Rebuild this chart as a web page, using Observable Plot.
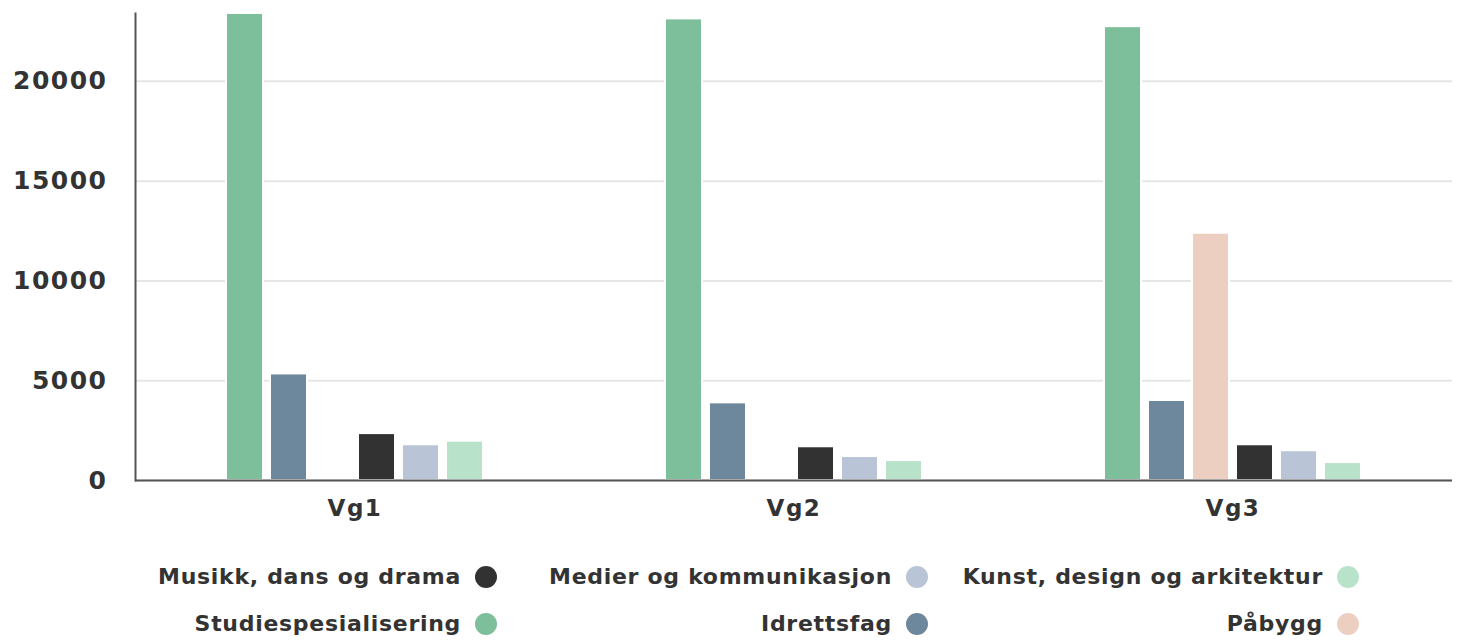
<!DOCTYPE html>
<html>
<head>
<meta charset="utf-8">
<script src="https://cdn.jsdelivr.net/npm/d3@7"></script>
<script src="https://cdn.jsdelivr.net/npm/@observablehq/plot@0.6"></script>
<style>
  body { margin: 0; background: #fff; font-family: "DejaVu Sans", sans-serif; }
  #wrap { position: relative; width: 1460px; height: 640px; }
  #legend { position: absolute; left: 66px; top: 553px; width: 1293px;
            display: grid; grid-template-columns: repeat(3, 431px); }
  .item { display: flex; justify-content: flex-end; align-items: center; height: 47px; }
  .lbl { font-family: "DejaVu Sans", sans-serif; font-weight: bold; font-size: 22px;
         letter-spacing: 0.7px; color: #333; }
  .sw { width: 22px; height: 22px; border-radius: 50%; margin-left: 14px; flex: none; }
  g[aria-label="y-axis tick label"] text { letter-spacing: 1.5px; font-weight: bold; }
  g[aria-label="fx-axis tick label"] text { letter-spacing: 1.5px; font-weight: bold; }
</style>
</head>
<body>
<div id="wrap">
  <div id="chart"></div>
  <div id="legend"></div>
</div>
<script>
// Categories
const groups = ["Vg1", "Vg2", "Vg3"];
const programs = [
  "Studiespesialisering",
  "Idrettsfag",
  "Påbygg",
  "Musikk, dans og drama",
  "Medier og kommunikasjon",
  "Kunst, design og arkitektur"
];
const colors = ["#7dbe9b", "#6d889c", "#edcfc1", "#323232", "#b9c4d6", "#b9e2cb"];

// Series values (order follows `programs`; null = no bar)
const vg1 = [23400, 5340, null, 2350, 1790, 1970];
const vg2 = [23130, 3890, null, 1690, 1200, 1000];
const vg3 = [22740, 4010, 12390, 1790, 1490, 900];

const yTicks = [0, 5000, 10000, 15000, 20000];
const legendOrder = [
  "Musikk, dans og drama", "Medier og kommunikasjon", "Kunst, design og arkitektur",
  "Studiespesialisering", "Idrettsfag", "Påbygg"
];

const series = {Vg1: vg1, Vg2: vg2, Vg3: vg3};
const data = [];
for (const g of groups) {
  series[g].forEach((v, i) => {
    if (v != null) data.push({group: g, program: programs[i], value: v});
  });
}

const chart = Plot.plot({
  width: 1460,
  height: 540,
  marginLeft: 135,
  marginRight: 8,
  marginTop: 13,
  marginBottom: 60,
  style: {fontFamily: "DejaVu Sans, sans-serif", color: "#333", background: "#fff"},
  fx: {domain: groups, padding: 0, label: null},
  x: {domain: programs, paddingInner: 0.168, paddingOuter: 2.06, axis: null},
  y: {domain: [0, 23400], label: null},
  color: {domain: programs, range: colors},
  marks: [
    Plot.gridY(yTicks, {stroke: "#e6e6e6", strokeOpacity: 1, strokeWidth: 2}),
    Plot.barY(data, {fx: "group", x: "program", y: "value", fill: "program",
                     stroke: "white", strokeWidth: 2}),
    Plot.ruleY([0], {stroke: "#555", strokeWidth: 2}),
    Plot.frame({anchor: "left", stroke: "#555", strokeWidth: 2, facetAnchor: "left"}),
    Plot.axisY(yTicks, {tickSize: 0, tickPadding: 28, fontSize: 25, fill: "#333",
                        tickFormat: d => String(d), label: null}),
    Plot.axisFx({anchor: "bottom", tickSize: 0, tickPadding: 19, fontSize: 23, fill: "#333", label: null})
  ]
});
document.getElementById("chart").appendChild(chart);

const legend = document.getElementById("legend");
for (const p of legendOrder) {
  const item = document.createElement("div");
  item.className = "item";
  const lbl = document.createElement("span");
  lbl.className = "lbl";
  lbl.textContent = p;
  const sw = document.createElement("span");
  sw.className = "sw";
  sw.style.background = colors[programs.indexOf(p)];
  item.appendChild(lbl);
  item.appendChild(sw);
  legend.appendChild(item);
}
</script>
</body>
</html>
